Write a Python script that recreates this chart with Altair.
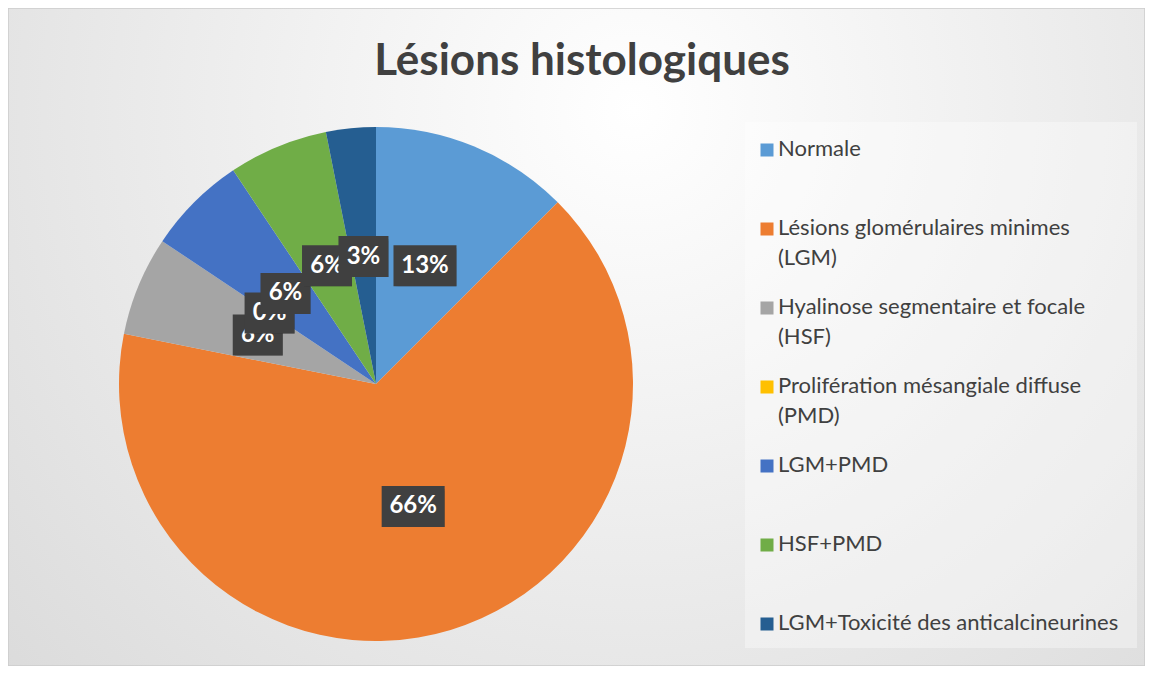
import altair as alt
import pandas as pd

categories = [
    "Normale",
    "Lésions glomérulaires minimes (LGM)",
    "Hyalinose segmentaire et focale (HSF)",
    "Prolifération mésangiale diffuse (PMD)",
    "LGM+PMD",
    "HSF+PMD",
    "LGM+Toxicité des anticalcineurines",
]
counts = [4, 21, 2, 0, 2, 2, 1]
pct_labels = ["13%", "66%", "6%", "0%", "6%", "6%", "3%"]
colors = ["#5B9BD5", "#ED7D31", "#A5A5A5", "#FFC000", "#4472C4", "#70AD47", "#255E91"]
title_text = "Lésions histologiques"

df = pd.DataFrame({"cat": categories, "count": counts, "label": pct_labels,
                   "idx": list(range(len(categories)))})

W, H = 1137, 658
CX, CY, R, LR = 368, 376, 257, 128
FONT = "Lato"

color_scale = alt.Scale(domain=categories, range=colors)
one = alt.Data(values=[{"k": 1}])

bg = alt.Chart(one).mark_rect(
    fill={"gradient": "radial",
          "x1": 0.55, "y1": 0.3, "r1": 0.0,
          "x2": 0.55, "y2": 0.3, "r2": 0.85,
          "stops": [{"offset": 0, "color": "#ffffff"},
                    {"offset": 1, "color": "#d6d6d6"}]},
    stroke="#cccccc", strokeWidth=1.5,
).encode(x=alt.value(0), x2=alt.value(W), y=alt.value(0), y2=alt.value(H))

title = alt.Chart(one).mark_text(
    text=title_text, font=FONT, fontSize=44, fontWeight="bold",
    color="#404040", align="center", baseline="alphabetic",
).encode(x=alt.value(574), y=alt.value(67))

pie = alt.Chart(df).mark_arc(outerRadius=R).encode(
    theta=alt.Theta("count:Q", stack=True),
    order=alt.Order("idx:O"),
    color=alt.Color("cat:N", scale=color_scale, legend=None),
    x=alt.value(CX), y=alt.value(CY),
)

legend_box = alt.Chart(one).mark_rect(fill="#ffffff", opacity=0.35).encode(
    x=alt.value(737), x2=alt.value(1129), y=alt.value(114), y2=alt.value(640))

leg_scale = alt.Scale(type="point", domain=categories, range=[142, 616], padding=0)

leg_sym = alt.Chart(df).mark_square(size=169, opacity=1).encode(
    x=alt.value(759),
    y=alt.Y("cat:N", scale=leg_scale, axis=None),
    color=alt.Color("cat:N", scale=color_scale, legend=None),
)

leg_txt = alt.Chart(df).transform_calculate(
    lt="replace(datum.cat, ' (', '\\n(')"
).mark_text(
    align="left", baseline="top", dy=-11, lineBreak="\n", lineHeight=30,
    font=FONT, fontSize=22, color="#404040",
).encode(
    x=alt.value(770),
    y=alt.Y("cat:N", scale=leg_scale, axis=None),
    text="lt:N",
)

lab_base = alt.Chart(df).transform_joinaggregate(
    total="sum(count)"
).transform_window(
    cum="sum(count)", sort=[alt.SortField("idx")], frame=[None, 0]
).transform_calculate(
    mid="(datum.cum - datum.count / 2) / datum.total * 2 * PI",
    lx=f"{CX} + {LR} * sin(datum.mid)",
    ly=f"{CY} - {LR} * cos(datum.mid)",
    hw="12 + 6.5 * length(datum.label)",
).transform_calculate(
    x0="datum.lx - datum.hw", x1="datum.lx + datum.hw",
    y0="datum.ly - 20.5", y1="datum.ly + 20.5",
)

label_layers = []
for i in range(len(categories)):
    b = lab_base.transform_filter(f"datum.idx == {i}")
    sh1 = b.mark_rect(fill="#000000", opacity=0.12).encode(
        x=alt.X("x0:Q", scale=None), x2="x1:Q",
        y=alt.Y("y0:Q", scale=None), y2="y1:Q",
        xOffset=alt.value(4), yOffset=alt.value(5))
    sh2 = b.mark_rect(fill="#000000", opacity=0.2).encode(
        x=alt.X("x0:Q", scale=None), x2="x1:Q",
        y=alt.Y("y0:Q", scale=None), y2="y1:Q",
        xOffset=alt.value(2), yOffset=alt.value(3))
    box = b.mark_rect(fill="#404040").encode(
        x=alt.X("x0:Q", scale=None), x2="x1:Q",
        y=alt.Y("y0:Q", scale=None), y2="y1:Q")
    txt = b.mark_text(font=FONT, fontSize=24, fontWeight="bold", color="#ffffff",
                      align="center", baseline="middle").encode(
        x=alt.X("lx:Q", scale=None), y=alt.Y("ly:Q", scale=None), text="label:N")
    label_layers += [sh1, sh2, box, txt]

chart = alt.layer(
    bg, title, pie, legend_box, leg_sym, leg_txt, *label_layers
).resolve_scale(
    x="independent", y="independent"
).properties(
    width=W, height=H, padding=0, autosize="none", background="#ffffff"
).configure_view(stroke=None)

chart.save("out.html", embed_options={"renderer": "svg", "actions": False})
